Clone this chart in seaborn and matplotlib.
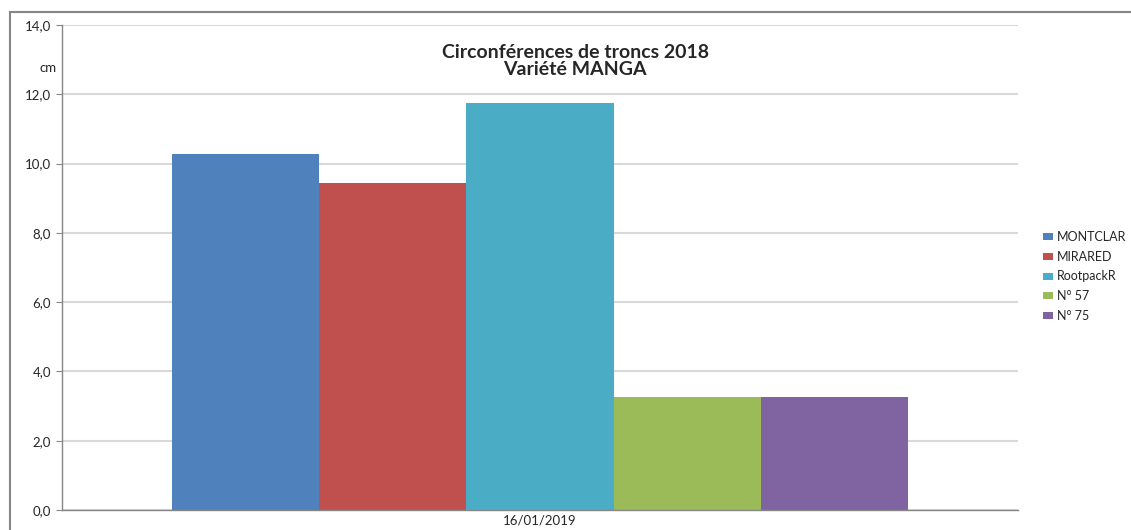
import matplotlib
matplotlib.use("Agg")
import matplotlib.pyplot as plt
from matplotlib.patches import Rectangle
import seaborn as sns
import pandas as pd

# données
date_mesure = "16/01/2019"
varietes = ["MONTCLAR", "MIRARED", "RootpackR", "N° 57", "N° 75"]
circonferences = [10.29, 9.43, 11.74, 3.26, 3.26]
couleurs = ["#4F81BD", "#C0504D", "#4BACC6", "#9BBB59", "#8064A2"]
y_ticks = [0, 2, 4, 6, 8, 10, 12, 14]
y_labels = ["0,0", "2,0", "4,0", "6,0", "8,0", "10,0", "12,0", "14,0"]

df = pd.DataFrame({"date": [date_mesure] * len(varietes),
                   "variete": varietes,
                   "circ": circonferences})

sns.set_style("white")
plt.rcParams["font.family"] = ["Lato", "DejaVu Sans"]

W, H = 1131, 530
fig = plt.figure(figsize=(W / 100, H / 100), dpi=100)
ax = fig.add_axes([62 / W, 20 / H, (1018 - 62) / W, (510 - 25) / H])

sns.barplot(data=df, x="date", y="circ", hue="variete", palette=couleurs,
            width=0.77, saturation=1, errorbar=None, linewidth=0, ax=ax)

ax.set_xlim(-0.5, 0.5)
ax.set_ylim(0, 14)
ax.set_yticks(y_ticks)
ax.set_yticklabels(y_labels, fontsize=9.5)
ax.set_xlabel("")
ax.set_ylabel("")
ax.tick_params(axis="x", length=0, labelsize=9.5, pad=3)
ax.set_xticks([-0.5, 0.5], minor=True)
ax.tick_params(axis="x", which="minor", length=5, color="#868686", direction="out")
ax.tick_params(axis="y", length=4, color="#868686", direction="out", left=True, pad=4)

ax.yaxis.grid(True, color="#d9d9d9", lw=1.5)
ax.set_axisbelow(True)
for s in ["top", "right"]:
    ax.spines[s].set_visible(False)
for s in ["left", "bottom"]:
    ax.spines[s].set_color("#868686")
    ax.spines[s].set_linewidth(1)

fig.text(48 / W, 1 - 68 / H, "cm", fontsize=9.5, ha="center", va="center")
fig.text(575 / W, 1 - 61 / H, "Circonférences de troncs 2018\nVariété MANGA",
         fontsize=14, fontweight="bold", ha="center", va="center", linespacing=0.95)

handles, labels = ax.get_legend_handles_labels()
ax.legend(handles, labels, loc="upper left", bbox_to_anchor=(1043 / W, 1 - 231 / H),
          bbox_transform=fig.transFigure, frameon=False, fontsize=9,
          borderpad=0, borderaxespad=0, handlelength=0.8, handleheight=0.5,
          handletextpad=0.3, labelspacing=0.62)

fig.add_artist(Rectangle((10 / W, -0.1), 1.2, 1.1 - 12 / H, transform=fig.transFigure,
                         fill=False, edgecolor="#868686", lw=1.5))

fig.savefig("out.png", dpi=100)
